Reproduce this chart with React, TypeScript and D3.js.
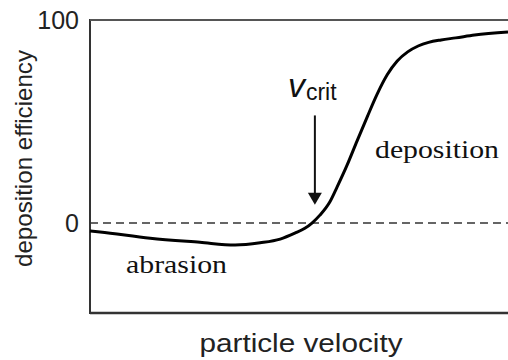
import React, { useEffect, useRef } from 'react';
import * as d3 from 'd3';

// particle velocity (arbitrary units, 0..100) and deposition efficiency (%)
const velocity = [0, 2.4, 14.4, 26.3, 34.7, 40.7, 45.5, 49.0, 51.4, 53.1, 55.0, 57.4, 59.1, 61.5, 63.9, 66.3, 68.7, 71.1, 73.5, 76.0, 78.5, 81.0, 84.0, 87.5, 92.0, 100];
const efficiency = [-3.9, -4.4, -7.5, -9.5, -10.8, -9.7, -7.9, -5.0, -2.6, 0, 3.9, 10.5, 17.7, 28.5, 40.5, 52.2, 63.5, 73.0, 79.8, 84.3, 87.2, 89.0, 90.2, 91.2, 92.6, 94.1];
const yTicks = [0, 100];
const vCrit = 53.8;
const arrowFromTo = [53, 9];

const App = () => {
  const svgRef = useRef<SVGSVGElement>(null);

  useEffect(() => {
    const width = 508;
    const height = 360;
    const margin = { top: 20, right: 0, bottom: 47, left: 90 };

    const svg = d3.select(svgRef.current);
    svg.selectAll('*').remove();

    const x = d3.scaleLinear().domain([0, 100]).range([margin.left, width - margin.right]);
    const y = d3.scaleLinear().domain([-44.3, 100]).range([height - margin.bottom, margin.top]);

    const sans = '"Liberation Sans", Arial, sans-serif';
    const serif = '"Liberation Serif", "Times New Roman", serif';

    // frame: left, top and bottom lines (no right edge)
    const frame = svg.append('g').attr('stroke', '#333').attr('fill', 'none');
    frame.append('line')
      .attr('x1', x(0)).attr('x2', x(0))
      .attr('y1', y(100) - 1).attr('y2', y(-44.3) + 1)
      .attr('stroke-width', 2);
    frame.append('line')
      .attr('x1', x(0)).attr('x2', x(100))
      .attr('y1', y(100)).attr('y2', y(100))
      .attr('stroke', '#555')
      .attr('stroke-width', 2);
    frame.append('line')
      .attr('x1', x(0)).attr('x2', x(100))
      .attr('y1', y(-44.3)).attr('y2', y(-44.3))
      .attr('stroke-width', 2.5);

    // zero line
    svg.append('line')
      .attr('x1', x(0)).attr('x2', x(100))
      .attr('y1', y(0)).attr('y2', y(0))
      .attr('stroke', '#333')
      .attr('stroke-width', 1.5)
      .attr('stroke-dasharray', '8,5');

    // y tick labels
    const yAxis = d3.axisLeft(y).tickValues(yTicks).tickSize(0).tickPadding(11).tickFormat(d3.format('d'));
    const yg = svg.append('g').attr('transform', `translate(${x(0)},0)`).call(yAxis);
    yg.select('.domain').remove();
    yg.selectAll('text')
      .attr('font-family', sans)
      .attr('font-size', 25)
      .attr('fill', '#222');

    // curve
    const pts = velocity.map((v, i) => [v, efficiency[i]] as [number, number]);
    const line = d3.line<[number, number]>()
      .x(d => x(d[0]))
      .y(d => y(d[1]))
      .curve(d3.curveMonotoneX);
    svg.append('path')
      .attr('d', line(pts))
      .attr('fill', 'none')
      .attr('stroke', '#000')
      .attr('stroke-width', 3)
      .attr('stroke-linejoin', 'round');

    // v_crit arrow
    const ax = x(vCrit);
    const y0 = y(arrowFromTo[0]);
    const y1 = y(arrowFromTo[1]);
    svg.append('line')
      .attr('x1', ax).attr('x2', ax)
      .attr('y1', y0).attr('y2', y1 - 10)
      .attr('stroke', '#111')
      .attr('stroke-width', 2);
    svg.append('path')
      .attr('d', `M${ax - 7},${y1 - 12}L${ax + 7},${y1 - 12}L${ax},${y1}Z`)
      .attr('fill', '#111');

    const vt = svg.append('text')
      .attr('x', ax - 27)
      .attr('y', y0 - 18)
      .attr('font-family', sans)
      .attr('fill', '#111');
    vt.append('tspan').attr('font-size', 34).attr('font-style', 'italic').text('v');
    vt.append('tspan').attr('font-size', 23).attr('dy', 3).attr('dx', 1).text('crit');

    // region labels
    svg.append('text')
      .attr('x', 375).attr('y', 158)
      .attr('font-family', serif)
      .attr('font-size', 25)
      .attr('textLength', 124)
      .attr('lengthAdjust', 'spacingAndGlyphs')
      .attr('fill', '#111')
      .text('deposition');
    svg.append('text')
      .attr('x', 126).attr('y', 273)
      .attr('font-family', serif)
      .attr('font-size', 25)
      .attr('textLength', 101)
      .attr('lengthAdjust', 'spacingAndGlyphs')
      .attr('fill', '#111')
      .text('abrasion');

    // axis titles
    svg.append('text')
      .attr('x', 301).attr('y', 352)
      .attr('text-anchor', 'middle')
      .attr('font-family', sans)
      .attr('font-size', 26)
      .attr('textLength', 203)
      .attr('lengthAdjust', 'spacingAndGlyphs')
      .attr('fill', '#222')
      .text('particle velocity');
    svg.append('text')
      .attr('transform', 'translate(32,158.5) rotate(-90)')
      .attr('text-anchor', 'middle')
      .attr('font-family', sans)
      .attr('font-size', 24)
      .attr('textLength', 217)
      .attr('lengthAdjust', 'spacingAndGlyphs')
      .attr('fill', '#222')
      .text('deposition efficiency');
  }, []);

  return (
    <svg
      ref={svgRef}
      width={508}
      height={360}
      style={{ position: 'absolute', left: 0, top: 0, background: '#fff' }}
    />
  );
};

export default App;
